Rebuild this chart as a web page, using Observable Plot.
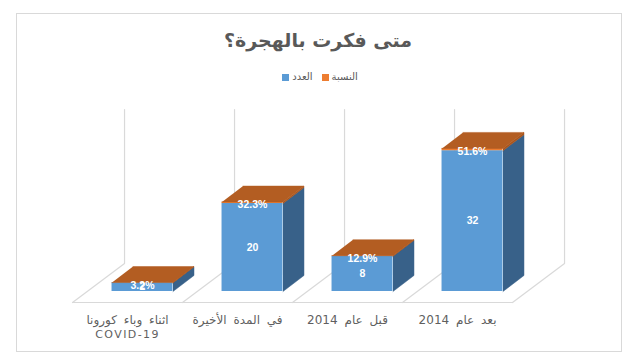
<!DOCTYPE html>
<html><head><meta charset="utf-8">
<script src="https://cdn.jsdelivr.net/npm/d3@7"></script>
<script src="https://cdn.jsdelivr.net/npm/@observablehq/plot@0.6"></script>
<style>
body{margin:0;background:#fff;}
#wrap{position:relative;width:640px;height:362px;overflow:hidden;font-family:"DejaVu Sans",sans-serif;}
#frame{position:absolute;left:16px;top:13px;width:606px;height:339px;border:1.5px solid #d9d9d9;box-sizing:border-box;}
#title{position:absolute;left:0;width:636px;top:27px;text-align:center;font-size:19px;font-weight:bold;color:#595959;line-height:26px;}
#legend{position:absolute;left:0;width:640px;top:70px;display:flex;justify-content:center;gap:9px;font-size:10px;color:#595959;line-height:14px;padding-left:0px;box-sizing:border-box;}
#legend span.item{display:flex;align-items:center;gap:3px;}
#legend span.sw{display:inline-block;width:7px;height:7px;}
#chart{position:absolute;left:0;top:0;}
</style>
</head><body>
<div id="wrap">
  <div id="frame"></div>
  <div id="chart"></div>
  <div id="title" dir="rtl"></div>
  <div id="legend"></div>
</div>
<script>
// ---- data ----
const title = "متى فكرت بالهجرة؟";
const categories = ["اثناء وباء كورونا\nCOVID-19", "في المدة الأخيرة", "قبل عام 2014", "بعد عام 2014"];
const counts = [2, 20, 8, 32];
const percents = [3.2, 32.3, 12.9, 51.6];
const seriesNames = ["العدد", "النسبة"];
const seriesColors = ["#5b9bd5", "#ed7d31"];

// ---- styling / geometry constants ----
const hw = 0.277;          // half bar width (x units)
const bdx = 0.191, bdy = 3.64;   // bar depth offset
const fdx = 0.4727, fdy = 8.864; // floor depth
const floorY = -2.5, floorShift = -0.636, wallH = 35;
const sideBlue = "#386189", sideOrange = "#a9541c", topOrange = "#b35d22";

document.getElementById("title").textContent = title;
const legend = document.getElementById("legend");
seriesNames.forEach((n, k) => {
  const it = document.createElement("span"); it.className = "item";
  const sw = document.createElement("span"); sw.className = "sw"; sw.style.background = seriesColors[k];
  const tx = document.createElement("span"); tx.textContent = n;
  it.appendChild(sw); it.appendChild(tx); legend.appendChild(it);
});

const bars = categories.map((c, i) => ({
  i, cat: c, count: counts[i], pct: percents[i] / 100, top: counts[i] + percents[i] / 100,
  pctLabel: percents[i].toFixed(1) + "%"
}));

// side and top faces as polygons
const sideB = [], sideO = [], tops = [];
bars.forEach(b => {
  const xr = b.i + hw;
  sideB.push(...[[xr, 0], [xr + bdx, bdy], [xr + bdx, b.count + bdy], [xr, b.count]].map(([x, y]) => ({x, y, id: b.i})));
  sideO.push(...[[xr, b.count], [xr + bdx, b.count + bdy], [xr + bdx, b.top + bdy], [xr, b.top]].map(([x, y]) => ({x, y, id: b.i})));
  tops.push(...[[b.i - hw, b.top], [xr, b.top], [xr + bdx, b.top + bdy], [b.i - hw + bdx, b.top + bdy]].map(([x, y]) => ({x, y, id: b.i})));
});

// floor and wall grid lines
const grid = [];
const n = categories.length;
grid.push({x: floorShift, y: floorY, id: "front"}, {x: n + floorShift, y: floorY, id: "front"});
for (let k = 0; k <= n; k++) {
  const x0 = k + floorShift;
  grid.push({x: x0, y: floorY, id: "g" + k}, {x: x0 + fdx, y: floorY + fdy, id: "g" + k}, {x: x0 + fdx, y: floorY + fdy + wallH, id: "g" + k});
}

const chart = Plot.plot({
  width: 640, height: 362, margin: 0,
  x: {type: "linear", domain: [0, 3], range: [142, 472], axis: null},
  y: {type: "linear", domain: [0, 32], range: [291, 150.2], axis: null},
  style: {background: "transparent"},
  marks: [
    Plot.line(grid, {x: "x", y: "y", z: "id", stroke: "#d9d9d9", strokeWidth: 1.2}),
    Plot.rect(bars, {x1: d => d.i - hw, x2: d => d.i + hw, y1: d => 0, y2: d => d.count, fill: seriesColors[0]}),
    Plot.rect(bars, {x1: d => d.i - hw, x2: d => d.i + hw, y1: d => d.count, y2: d => d.top, fill: seriesColors[1]}),
    Plot.line(sideB, {x: "x", y: "y", z: "id", fill: sideBlue, stroke: sideBlue, strokeWidth: 0.5}),
    Plot.line(sideO, {x: "x", y: "y", z: "id", fill: sideOrange, stroke: sideOrange, strokeWidth: 0.5}),
    Plot.line(tops, {x: "x", y: "y", z: "id", fill: topOrange, stroke: topOrange, strokeWidth: 0.5}),
    Plot.text(bars, {x: "i", y: d => d.count / 2, text: d => String(d.count), fill: "white", fontWeight: "bold", fontSize: 10.5, fontFamily: "Liberation Sans"}),
    Plot.text(bars, {x: "i", y: "top", dy: 3, text: "pctLabel", fill: "white", fontWeight: "bold", fontSize: 10.5, fontFamily: "Liberation Sans"}),
    Plot.text(bars, {x: d => d.i + floorShift + 0.5, y: d => floorY, text: "cat", lineAnchor: "top", dy: 10, lineHeight: 1.3, fill: "#5f5f5f", fontSize: 11, fontFamily: "DejaVu Sans"})
  ]
});
const textGroups = chart.querySelectorAll('g[aria-label="text"]');
const catGroup = textGroups[textGroups.length - 1];
const arabic = /[\u0600-\u06FF]/;
if (catGroup) {
  catGroup.querySelectorAll("text").forEach(t => {
    const spans = t.querySelectorAll("tspan");
    const parts = spans.length ? Array.from(spans) : [t];
    parts.forEach(p => {
      if (arabic.test(p.textContent)) {
        p.style.fontSize = "12px";
        p.style.wordSpacing = "3px";
      } else {
        p.style.letterSpacing = "1.4px";
      }
    });
  });
}
document.getElementById("chart").appendChild(chart);
</script>
</body></html>
